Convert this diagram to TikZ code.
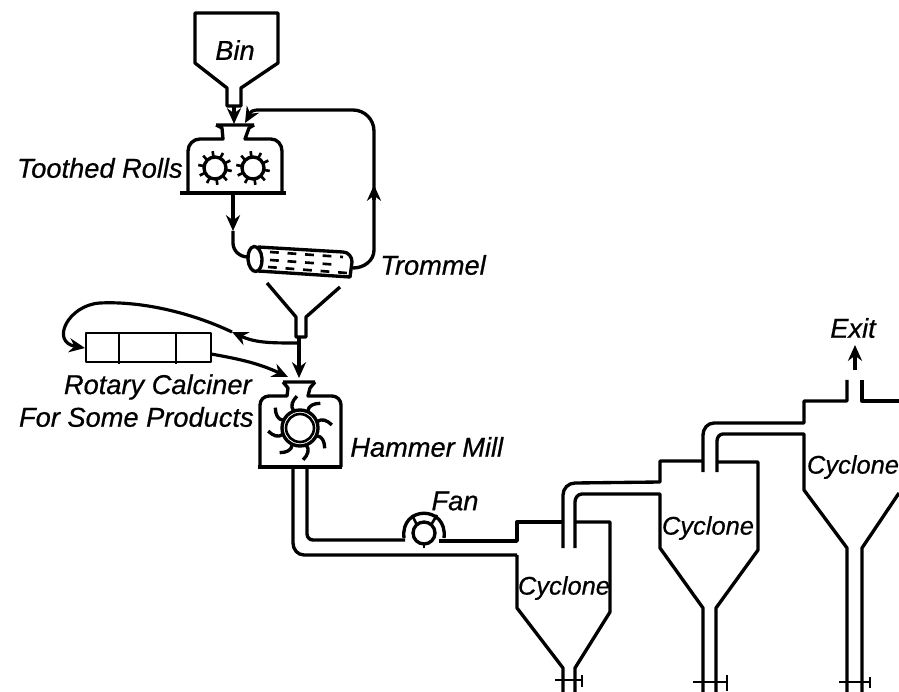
\documentclass[tikz,border=0pt]{standalone}
\usepackage{fontspec}
\setmainfont[ItalicFeatures={FakeBold=0.6}]{Liberation Sans}
\usetikzlibrary{positioning,arrows.meta}

\begin{document}
\begin{tikzpicture}[
  x=0.02cm,y=-0.02cm,
  pipe/.style={line width=1.9pt,line join=round},
  thinpipe/.style={line width=1.5pt,line join=round},
  arr/.style={-{Stealth[length=9pt,width=8pt]},line width=1.8pt},
  label/.style={font=\fontsize{15.5}{18}\selectfont\itshape,inner sep=0pt},
  tag/.style={font=\fontsize{14.5}{18}\selectfont\itshape,inner sep=0pt},
]
\useasboundingbox (0,0) rectangle (899,692);

% Bin
\draw[pipe] (227,106) -- (227,88) -- (195,63) -- (195,13) -- (278,13) -- (278,63)
  -- (241,88) -- (241,106) -- cycle;
\node[label] (bin) at (235,50) {Bin};
\coordinate (binout) at (234,106);

% Toothed rolls
\draw[pipe] (216,125) -- (254,125) (216,125) -- (222,128) -- (223,139) -- (200,139)
  to[out=180,in=90] (188,151) -- (188,193);
\draw[pipe] (254,125) -- (249,128) -- (245,139) -- (271,139)
  to[out=0,in=90] (282,151) -- (282,193);
\draw[pipe] (180,193) -- (286,193);
\foreach \cx in {215,253} {
  \draw[pipe] (\cx,168) circle (11);
  \foreach \a in {0,36,...,324}
    \draw[thinpipe] (\cx,168) ++(\a+10:11) -- ++(\a+10:6);
}
\node[label,anchor=east] (rolls) at (183,168) {Toothed Rolls};
\coordinate (rollsin) at (234,124);
\coordinate (rollsret) at (245,123);
\coordinate (rollsout) at (233,195);
\coordinate (rollsmid) at (233,231);

\draw[arr] (binout) -- (rollsin);

% Trommel
\draw[pipe] (258,247) -- (343,252) to[out=0,in=90] (352,262) -- (350,277) -- (258,271);
\draw[pipe,rotate around={4:(255,259)}] (255,259) ellipse (7 and 12.5);
\foreach \xa/\ya/\xb/\yb in {270/252/343/257,270/260/340/265,268/267/347/273}
  \draw[line width=1.5pt,dash pattern=on 5pt off 5pt] (\xa,\ya) -- (\xb,\yb);
\node[label,anchor=west] (trommel) at (380,265) {Trommel};
\coordinate (tromin) at (248,257);
\coordinate (tromout) at (353,268);
\coordinate (retmid) at (374,185);

\draw[arr] (rollsout) -- (rollsmid);
\draw[pipe] (rollsmid) -- (233,243) to[out=-90,in=180] (tromin);
\draw[pipe] (tromout) to[out=0,in=-90] (374,250) -- (retmid);
\draw[arr] (374,200) -- (retmid);
\draw[pipe,rounded corners=12] (retmid) -- (374,110) -- (256,110);
\draw[arr] (256,110) to[out=180,in=60] (rollsret);

% Funnel under trommel
\draw[pipe] (267,283) -- (296,317) -- (296,337) -- (306,337) -- (306,317) -- (340,287);
\coordinate (funout) at (299,337);
\coordinate (funside) at (298,343);

% Rotary calciner
\draw[thinpipe] (86,333) rectangle (211,362);
\draw[thinpipe] (119,333) -- (119,364) (176,333) -- (176,364);
\node[label,anchor=east] (calciner) at (252,387) {Rotary Calciner};
\node[label,anchor=east] (products) at (254,417) {For Some Products};
\coordinate (calcin) at (85,348);
\coordinate (calcout) at (211,354);
\coordinate (bendmid) at (232,332);

\draw[arr] (funside) to[out=180,in=-25] (bendmid);
\draw[arr] (bendmid) .. controls (190,312) and (140,301) .. (100,303)
  .. controls (68,305) and (50,342) .. (calcin);

% Hammer mill
\draw[pipe] (283,382) -- (315,382) (283,382) -- (288,388) -- (287,396) -- (269,396)
  to[out=180,in=90] (260,405) -- (260,467);
\draw[pipe] (315,382) -- (310,388) -- (308,396) -- (332,396)
  to[out=0,in=90] (341,405) -- (341,467);
\draw[pipe] (258,467) -- (342,467);
\draw[pipe] (300,428) circle (18);
\draw[thinpipe] (300,428) circle (14);
\foreach \a in {0,45,...,315}
  \draw[pipe,shift={(300,428)},rotate=\a+20] (18,0) .. controls (24,-2) and (28,2) .. (31,8);
\node[label,anchor=west] (hammer) at (350,447) {Hammer Mill};
\coordinate (millin) at (299,378);
\coordinate (millside) at (288,377);

\draw[arr] (funout) -- (millin);
\draw[arr] (calcout) to[out=-10,in=155] (millside);

% Duct to fan
\draw[pipe] (293,468) -- (293,543) to[out=-90,in=180] (304,555) -- (517,555);
\draw[pipe] (307,468) -- (307,534) to[out=-90,in=180] (313,540) -- (405,540);

% Fan
\draw[pipe] (404,538) .. controls (400,505) and (448,505) .. (444,538);
\draw[pipe,fill=white] (424,533) circle (11);
\draw[thinpipe] (417,525) -- (412,515) (431,525) -- (437,515);
\draw[thinpipe] (424,544) -- (424,548);
\node[label] (fan) at (455,501) {Fan};
\draw[pipe] (439,541) -- (517,541) -- (517,522) -- (563,522);

% First cyclone
\draw[pipe] (517,555) -- (517,608) -- (563,668) -- (563,692);
\draw[pipe] (575,522) -- (610,522) -- (610,612) -- (575,668) -- (575,692);
\draw[pipe] (563,548) -- (563,495) to[out=90,in=180] (575,483) -- (660,482)
  -- (660,461) -- (703,461);
\draw[pipe] (575,548) -- (575,502) to[out=90,in=180] (582,494) -- (660,494)
  -- (660,548) -- (703,608) -- (703,692);
\draw[thinpipe] (555,680) -- (582,680) (582,675) -- (582,687);
\node[tag] (cyclonea) at (564,588) {Cyclone};

% Second cyclone
\draw[pipe] (717,462) -- (758,462) -- (758,550) -- (716,608) -- (716,692);
\draw[pipe] (703,472) -- (703,435) to[out=90,in=180] (714,423) -- (804,423)
  -- (804,401) -- (847,401) -- (847,380);
\draw[pipe] (717,472) -- (717,441) to[out=90,in=180] (723,434) -- (804,434)
  -- (804,490) -- (847,548) -- (847,692);
\draw[thinpipe] (693,682) -- (727,682) (727,675) -- (727,691);
\node[tag] (cycloneb) at (708,528) {Cyclone};

% Third cyclone
\draw[pipe] (862,380) -- (862,401) -- (899,401);
\draw[pipe] (899,493) -- (862,548) -- (862,692);
\draw[thinpipe] (839,682) -- (870,682) (870,677) -- (870,688);
\node[tag] (cyclonec) at (853,467) {Cyclone};

% Exit
\node[label] (exit) at (853,328) {Exit};
\coordinate (exitin) at (855,370);
\coordinate (exittip) at (855,345);
\draw[arr] (exitin) -- (exittip);

\end{tikzpicture}
\end{document}
